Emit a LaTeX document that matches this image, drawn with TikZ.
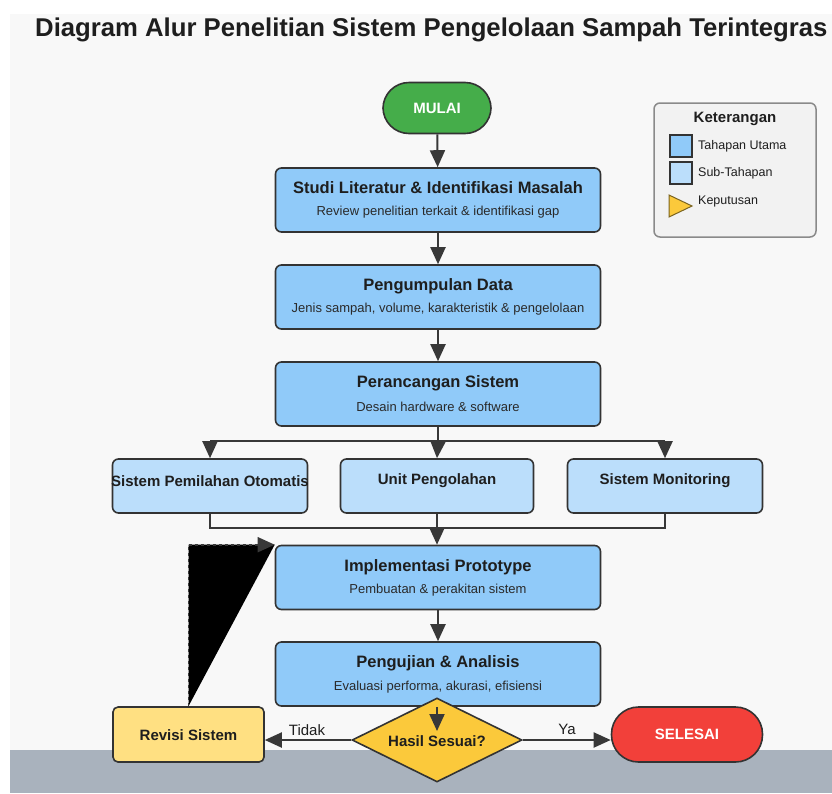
\documentclass[tikz,border=0pt]{standalone}
\usepackage{fontspec}
\setmainfont{Liberation Sans}
\usetikzlibrary{arrows.meta,shapes.geometric}
\definecolor{mainblue}{HTML}{90CAF9}
\definecolor{subblue}{HTML}{BBDEFB}
\definecolor{edgec}{HTML}{333333}
\definecolor{arrowc}{HTML}{383838}
\definecolor{txt}{HTML}{1E1E1E}
\definecolor{subtxtc}{HTML}{2A2A2A}
\definecolor{startgreen}{HTML}{45AD4A}
\definecolor{endred}{HTML}{F2403A}
\definecolor{decyellow}{HTML}{FBC93B}
\definecolor{revyellow}{HTML}{FFE082}
\definecolor{panel}{HTML}{F8F8F8}
\definecolor{band}{HTML}{A9B2BD}
\definecolor{legfill}{HTML}{F2F2F2}
\definecolor{legedge}{HTML}{8A8A8A}
\definecolor{tribrown}{HTML}{7A6420}
\tikzset{
  mainbox/.style={draw=edgec, fill=mainblue, line width=1.6pt, rounded corners=6pt,
    minimum width=325pt, minimum height=64pt, inner sep=0pt},
  subbox/.style={draw=edgec, fill=subblue, line width=1.6pt, rounded corners=6pt,
    minimum width=195pt, minimum height=54pt, inner sep=0pt},
  ttl/.style={font=\bfseries\fontsize{16.5}{19}\selectfont, text=txt, inner sep=0pt},
  subtxt/.style={font=\fontsize{13}{15}\selectfont, text=subtxtc, inner sep=0pt},
  subttl/.style={font=\bfseries\fontsize{15}{18}\selectfont, text=txt, inner sep=0pt},
  pill/.style={draw=edgec, line width=1.6pt, rounded corners=26pt, inner sep=0pt,
    font=\bfseries\fontsize{15}{18}\selectfont, text=white},
  arr/.style={draw=arrowc, line width=2pt, -{Triangle[length=17pt,width=15pt]}},
  ln/.style={draw=arrowc, line width=2pt},
  lbl/.style={font=\fontsize{15}{18}\selectfont, text=txt, inner sep=0pt},
  legsq/.style={draw=edgec, line width=1.2pt, minimum width=22pt, minimum height=22pt, inner sep=0pt},
  legtxt/.style={font=\fontsize{12.5}{15}\selectfont, text=txt, inner sep=0pt, anchor=west}
}
\begin{document}
\begin{tikzpicture}[x=1pt,y=-1pt]
\useasboundingbox (0,0) rectangle (832,793);
\clip (0,0) rectangle (832,793);
% background
\fill[white] (0,0) rectangle (832,793);
\fill[panel] (10,14) rectangle (832,750);
\fill[band] (10,750) rectangle (832,793);
% title
\node[anchor=west, inner sep=0pt, text=txt, font=\bfseries\fontsize{25.7}{30}\selectfont] (title) at (35,30)
  {Diagram Alur Penelitian Sistem Pengelolaan Sampah Terintegras};

% legend
\node[draw=legedge, fill=legfill, line width=1.5pt, rounded corners=6pt, minimum width=162pt,
  minimum height=134pt, inner sep=0pt] (leg) at (735,170) {};
\node[font=\bfseries\fontsize{15}{18}\selectfont, text=txt, inner sep=0pt] (legT) at (735,119) {Keterangan};
\node[legsq, fill=mainblue] (lg1) at (681,146) {};
\node[legtxt] (lg1t) at (698,146) {Tahapan Utama};
\node[legsq, fill=subblue] (lg2) at (681,173) {};
\node[legtxt] (lg2t) at (698,173) {Sub-Tahapan};
\filldraw[fill=decyellow, draw=tribrown, line width=1pt] (669,195) -- (692,206) -- (669,217) -- cycle;
\node[legtxt] (lg3t) at (698,201) {Keputusan};

% start
\node[pill, fill=startgreen, minimum width=108pt, minimum height=51pt] (mulai) at (437,108) {MULAI};

% main boxes
\node[mainbox] (studi) at (438,200) {};
\node[ttl] (studiT) at (438,188) {Studi Literatur \& Identifikasi Masalah};
\node[subtxt] (studiS) at (438,212) {Review penelitian terkait \& identifikasi gap};

\node[mainbox] (kumpul) at (438,297) {};
\node[ttl] (kumpulT) at (438,286) {Pengumpulan Data};
\node[subtxt] (kumpulS) at (438,309) {Jenis sampah, volume, karakteristik \& pengelolaan};

\node[mainbox] (rancang) at (438,394) {};
\node[ttl] (rancangT) at (438,383) {Perancangan Sistem};
\node[subtxt] (rancangS) at (438,407) {Desain hardware \& software};

% sub boxes
\node[subbox] (s1) at (210,486) {};
\node[subttl] (s1t) at (210,481) {Sistem Pemilahan Otomatis};
\node[subbox, minimum width=193pt] (s2) at (437,486) {};
\node[subttl] (s2t) at (437,481) {Unit Pengolahan};
\node[subbox] (s3) at (665,486) {};
\node[subttl] (s3t) at (665,481) {Sistem Monitoring};

\node[mainbox] (impl) at (438,577.5) {};
\node[ttl] (implT) at (438,567) {Implementasi Prototype};
\node[subtxt] (implS) at (438,590) {Pembuatan \& perakitan sistem};

\node[mainbox] (uji) at (438,674) {};
\node[ttl] (ujiT) at (438,663) {Pengujian \& Analisis};
\node[subtxt] (ujiS) at (438,687) {Evaluasi performa, akurasi, efisiensi};

% feedback (filled black, as in the reference)
\node[draw=edgec, fill=revyellow, line width=1.6pt, rounded corners=5pt, minimum width=151pt,
  minimum height=55pt, inner sep=0pt] (revisi) at (188.5,734.5) {};
\coordinate (fbcorner) at (revisi.north |- impl.north west);
\fill[black] (revisi.north) -- (fbcorner) -- (impl.north west) -- cycle;
\draw[draw=arrowc, line width=1.6pt, dashed, -{Triangle[length=17pt,width=15pt]}]
  (revisi.north) -- (fbcorner) -- (impl.north west);
\node[subttl] (revisiT) at (188.5,735) {Revisi Sistem};

% decision
\node[draw=edgec, fill=decyellow, line width=1.6pt, shape=diamond, minimum width=170pt,
  minimum height=84pt, inner sep=0pt] (dec) at (437,740) {};
\node[pill, fill=endred, minimum width=151pt, minimum height=55pt, rounded corners=27pt] (selesai) at (687,734.5) {SELESAI};

% connectors
\draw[arr] (mulai) -- (studi);
\draw[arr] (studi) -- (kumpul);
\draw[arr] (kumpul) -- (rancang);
\coordinate (split) at (438,441);
\draw[ln] (rancang.south) -- (split);
\draw[ln] (s1.north |- split) -- (s3.north |- split);
\draw[arr] (s1.north |- split) -- (s1.north);
\draw[arr] (split) -- (s2.north);
\draw[arr] (s3.north |- split) -- (s3.north);
\coordinate (join) at (437,528);
\draw[ln] (s1.south) -- (s1.south |- join) -- (s3.south |- join) -- (s3.south);
\draw[arr] (s2.south) -- (impl.north -| s2.south);
\draw[arr] (impl) -- (uji);
\coordinate (dectip) at (437,731);
\draw[arr] (uji.south -| dectip) -- (dectip);
\node[subttl] (decT) at (437,741) {Hasil Sesuai?};
\draw[arr] (dec.west) -- (revisi.east |- dec.west);
\draw[arr] (dec.east) -- (selesai.west |- dec.east);
\node[lbl] (tidak) at (307,730) {Tidak};
\node[lbl] (ya) at (567,729) {Ya};
\end{tikzpicture}
\end{document}
